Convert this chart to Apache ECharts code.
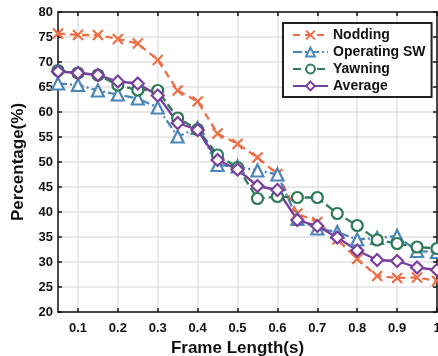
<!DOCTYPE html>
<html>
<head>
<meta charset="utf-8">
<script src="https://cdn.jsdelivr.net/npm/echarts@6/dist/echarts.min.js"></script>
<style>
  html, body { margin: 0; padding: 0; background: #fff; }
  #chart { width: 438px; height: 356px; }
</style>
</head>
<body>
<div id="chart"></div>
<script>
const frameLen = [0.05, 0.1, 0.15, 0.2, 0.25, 0.3, 0.35, 0.4, 0.45, 0.5,
                  0.55, 0.6, 0.65, 0.7, 0.75, 0.8, 0.85, 0.9, 0.95, 1.0];
const nodding = [75.7, 75.4, 75.4, 74.6, 73.7, 70.4, 64.3, 62.1, 55.7, 53.6,
                 50.9, 47.6, 39.7, 38.0, 34.5, 30.6, 27.2, 26.8, 26.9, 26.2];
const operating = [65.7, 65.4, 64.3, 63.5, 62.7, 60.9, 55.1, 56.8, 49.4, 49.1,
                   48.3, 47.5, 38.6, 36.7, 36.0, 34.5, 34.8, 35.2, 32.2, 32.0];
const yawning = [68.3, 67.8, 67.4, 65.4, 64.4, 64.3, 58.8, 56.5, 51.4, 48.9,
                 42.7, 43.1, 42.9, 42.9, 39.7, 37.3, 34.4, 33.7, 33.0, 32.7];
const average = [68.1, 67.8, 67.4, 66.1, 65.7, 63.3, 57.8, 56.4, 50.4, 48.5,
                 45.2, 44.4, 38.4, 37.2, 34.9, 32.3, 30.4, 30.2, 28.9, 28.4];
const xTicks = [0.1, 0.2, 0.3, 0.4, 0.5, 0.6, 0.7, 0.8, 0.9, 1];

const chart = echarts.init(document.getElementById('chart'));

const font = 'Liberation Sans, Arial, sans-serif';
const pair = (ys) => frameLen.map((x, i) => [x, ys[i]]);
const xMark = 'path://M0,0L10,10M10,0L0,10';

function line(name, ys, color, dash, symbol, size) {
  return {
    name: name,
    type: 'line',
    data: pair(ys),
    symbol: symbol,
    symbolSize: size,
    showAllSymbol: true,
    lineStyle: { color: color, width: 2.3, type: dash },
    itemStyle: { color: symbol === xMark ? color : '#fff', borderColor: color, borderWidth: 2.2 },
    emphasis: { disabled: true },
    z: 3
  };
}

const option = {
  animation: false,
  grid: { left: 58, right: 1, top: 12, bottom: 44, outerBoundsMode: 'none' },
  legend: {
    left: 283, top: 23,
    orient: 'vertical',
    backgroundColor: '#fff',
    borderColor: '#222',
    borderWidth: 2,
    padding: [5, 6, 4, 9],
    itemWidth: 35, itemHeight: 11, itemGap: 3,
    textStyle: { fontFamily: font, fontWeight: 'bold', fontSize: 14, color: '#111' },
    data: ['Nodding', 'Operating SW', 'Yawning', 'Average']
  },
  xAxis: [
    {
      type: 'value', min: 0.05, max: 1,
      name: 'Frame Length(s)', nameLocation: 'middle', nameGap: 25,
      nameTextStyle: { fontFamily: font, fontWeight: 'bold', fontSize: 17, color: '#111', padding: [0, 20, 0, 0] },
      axisLine: { lineStyle: { color: '#111', width: 1.5 } },
      axisTick: { inside: true, length: 4, customValues: xTicks, lineStyle: { color: '#111', width: 1.5 } },
      axisLabel: { customValues: xTicks, margin: 10, fontFamily: font, fontWeight: 'bold', fontSize: 13, color: '#111' },
      splitLine: { show: true, lineStyle: { color: '#e2e2e2', width: 1.5 } }
    },
    {
      type: 'value', min: 0.05, max: 1, position: 'top',
      axisLine: { show: true, onZero: false, lineStyle: { color: '#111', width: 1.5 } },
      axisTick: { show: true, inside: true, length: 4, customValues: xTicks, lineStyle: { color: '#111', width: 1.5 } },
      axisLabel: { show: false },
      splitLine: { show: false }
    }
  ],
  yAxis: [
    {
      type: 'value', min: 20, max: 80, interval: 5,
      name: 'Percentage(%)', nameLocation: 'middle', nameGap: 31,
      nameTextStyle: { fontFamily: font, fontWeight: 'bold', fontSize: 17, color: '#111' },
      axisLine: { show: true, lineStyle: { color: '#111', width: 1.5 } },
      axisTick: { show: true, inside: true, length: 4, lineStyle: { color: '#111', width: 1.5 } },
      axisLabel: { margin: 5, fontFamily: font, fontWeight: 'bold', fontSize: 13, color: '#111' },
      splitLine: { show: true, lineStyle: { color: '#e2e2e2', width: 1.5 } }
    },
    {
      type: 'value', min: 20, max: 80, interval: 5, position: 'right',
      axisLine: { show: true, onZero: false, lineStyle: { color: '#111', width: 1.5 } },
      axisTick: { show: true, inside: true, length: 4, lineStyle: { color: '#111', width: 1.5 } },
      axisLabel: { show: false },
      splitLine: { show: false }
    }
  ],
  series: [
    line('Nodding', nodding, '#EE6E45', [7, 5], xMark, 10),
    line('Operating SW', operating, '#4A86B8', [9, 3, 2, 3], 'triangle', 12),
    line('Yawning', yawning, '#2D7A56', [8, 4], 'circle', 11),
    line('Average', average, '#7A3E9D', 'solid', 'diamond', 12)
  ]
};

chart.setOption(option);
</script>
</body>
</html>
